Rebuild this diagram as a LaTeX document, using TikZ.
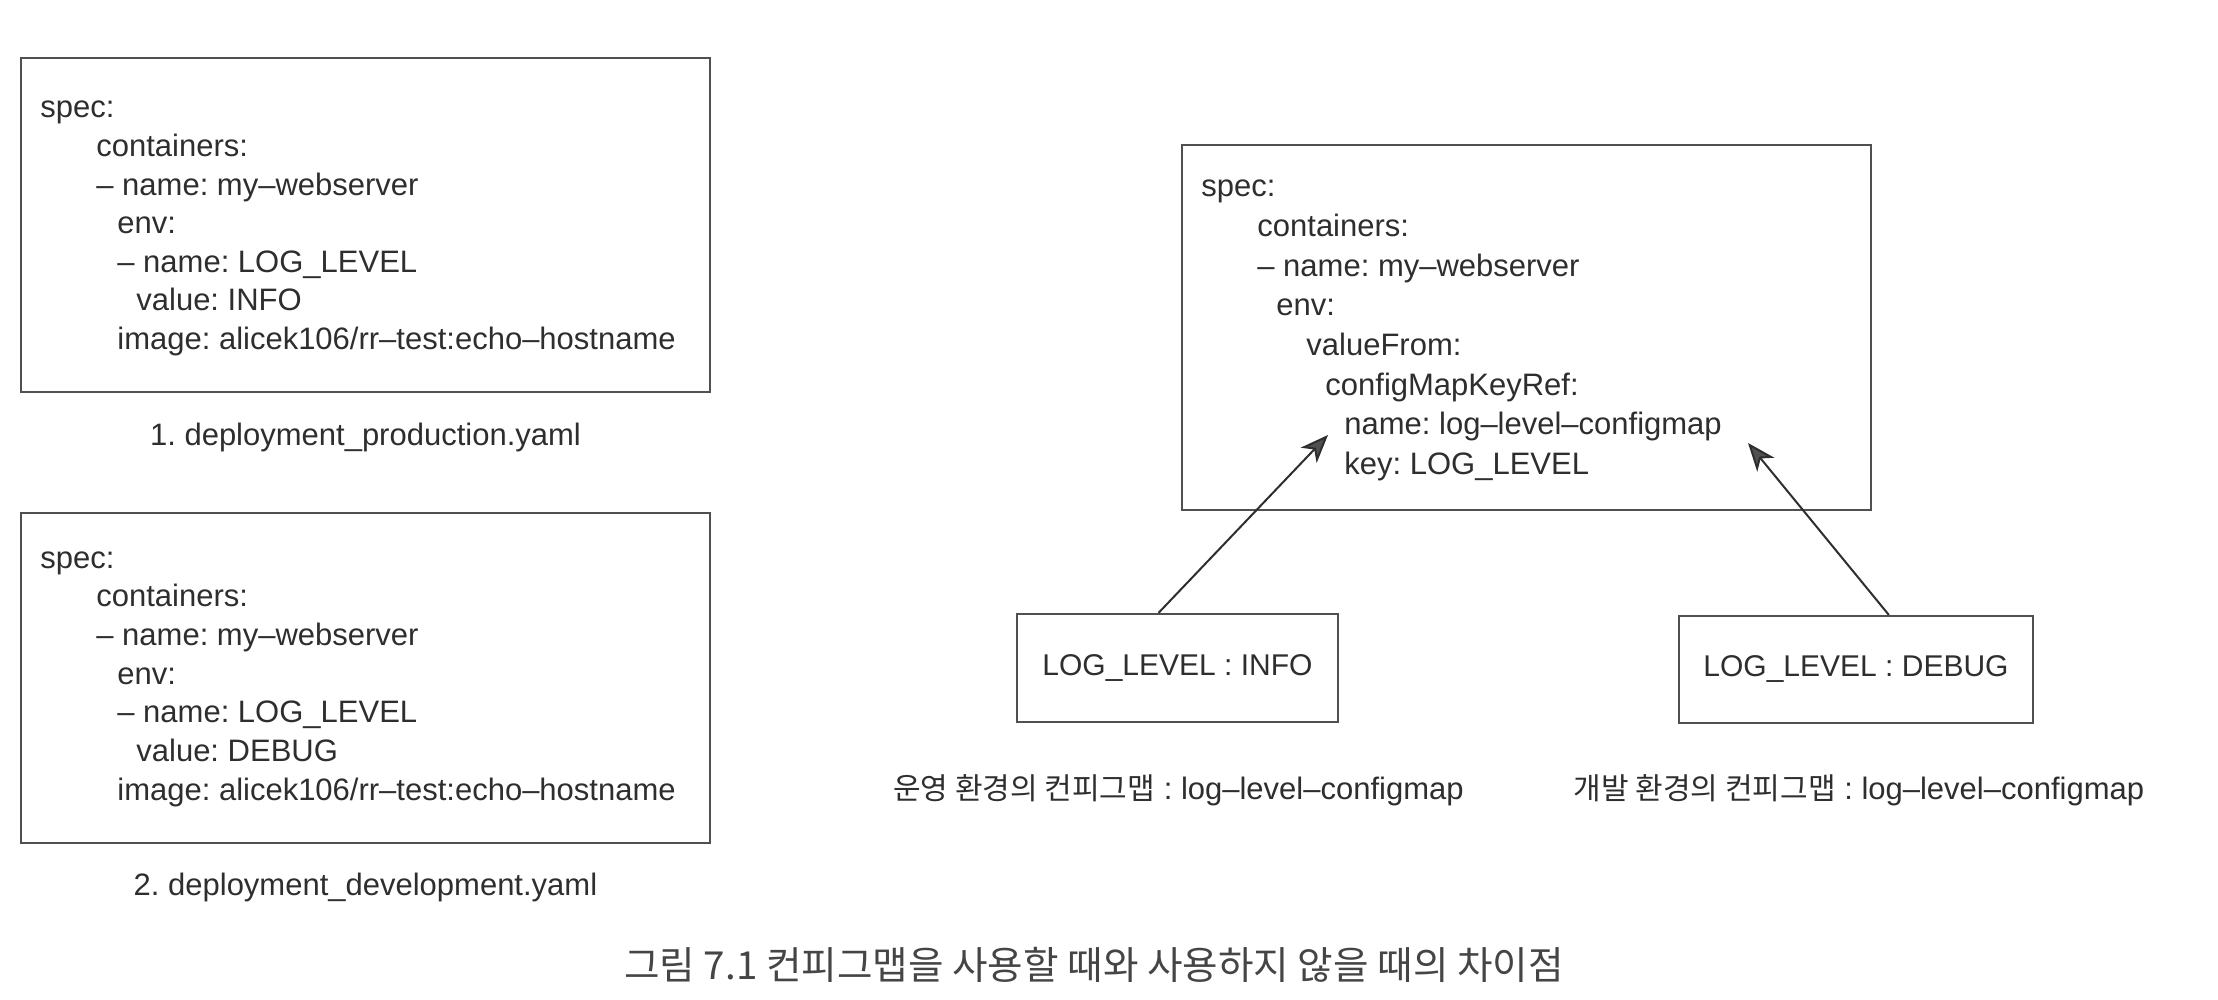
\documentclass[tikz,border=0pt]{standalone}
\usepackage{fontspec}
\setmainfont{Liberation Sans}
\newfontfamily\kr{Noto Sans CJK KR}
\usetikzlibrary{arrows.meta}
\definecolor{ink}{HTML}{2E2E2E}
\definecolor{frame}{HTML}{505050}
\definecolor{capink}{HTML}{454545}
\frenchspacing
\begin{document}
\begin{tikzpicture}[x=0.5pt,y=-0.5pt,
  codebox/.style={draw=frame, line width=1.1pt, inner sep=0pt, rectangle},
  code/.style={anchor=base west, inner sep=0pt, font=\fontsize{15.5}{18}\selectfont, text=ink},
  fname/.style={anchor=base, inner sep=0pt, font=\fontsize{15.5}{18}\selectfont, text=ink},
  valbox/.style={draw=frame, line width=1.1pt, inner sep=0pt, rectangle, font=\fontsize{15}{18}\selectfont, text=ink},
  krlabel/.style={anchor=center, inner sep=0pt, font=\fontsize{15.5}{18}\selectfont, text=ink},
  figcap/.style={anchor=center, inner sep=0pt, font=\kr\fontsize{19.3}{22}\selectfont, text=capink},
  link/.style={draw=ink, line width=1pt, -{Stealth[length=14pt,width=11pt,inset=4pt,fill=frame]}}
]
\useasboundingbox (0,0) rectangle (2218,1000);

% ---- box 1: production
\node[codebox, minimum width=344.5pt, minimum height=167pt] (prod) at (365.5,225) {};
\node[code] (p1) at (40,118) {spec:};
\node[code] (p2) at (96,156.6) {containers:};
\node[code] (p3) at (96,195.2) {– name: my–webserver};
\node[code] (p4) at (117,233.8) {env:};
\node[code] (p5) at (117,272.4) {– name: LOG\_LEVEL};
\node[code] (p6) at (136,311) {value: INFO};
\node[code] (p7) at (117,349.6) {image: alicek106/rr–test:echo–hostname};
\node[fname] (pcap) at (365.5,445) {1. deployment\_production.yaml};

% ---- box 2: development
\node[codebox, minimum width=344.5pt, minimum height=165pt] (dev) at (365.5,678) {};
\node[code] (d1) at (40,568) {spec:};
\node[code] (d2) at (96,606.7) {containers:};
\node[code] (d3) at (96,645.4) {– name: my–webserver};
\node[code] (d4) at (117,684) {env:};
\node[code] (d5) at (117,722.7) {– name: LOG\_LEVEL};
\node[code] (d6) at (136,761.4) {value: DEBUG};
\node[code] (d7) at (117,800) {image: alicek106/rr–test:echo–hostname};
\node[fname] (dcap) at (365.5,895) {2. deployment\_development.yaml};

% ---- right box: configmap reference
\node[codebox, minimum width=344.5pt, minimum height=182.5pt] (ref) at (1526.5,327.5) {};
\node[code] (r1) at (1201,197) {spec:};
\node[code] (r2) at (1257,236.6) {containers:};
\node[code] (r3) at (1257,276.2) {– name: my–webserver};
\node[code] (r4) at (1276,315.8) {env:};
\node[code] (r5) at (1306,355.4) {valueFrom:};
\node[code] (r6) at (1325,395) {configMapKeyRef:};
\node[code] (r7) at (1344,434.6) {name: log–level–configmap};
\node[code] (r8) at (1344,474.2) {key: LOG\_LEVEL};

% ---- configmap value boxes
\node[valbox, minimum width=160.5pt, minimum height=54pt] (info) at (1177.5,668) {LOG\_LEVEL : INFO};
\node[valbox, minimum width=177pt, minimum height=53.5pt] (debug) at (1856,669.5) {LOG\_LEVEL : DEBUG};

\node[krlabel] (infolbl) at (1178.5,790) {{\kr\fontsize{15}{18}\selectfont 운영 환경의 컨피그맵} : log–level–configmap};
\node[krlabel] (debuglbl) at (1859,790) {{\kr\fontsize{15}{18}\selectfont 개발 환경의 컨피그맵} : log–level–configmap};

% ---- arrows
\coordinate (tipA) at (1328,435);
\coordinate (tipB) at (1748,443);
\draw[link] (info.109) -- (tipA);
\draw[link] (debug.59) -- (tipB);

% ---- figure caption
\node[figcap] (caption) at (1094,965) {그림 7.1 컨피그맵을 사용할 때와 사용하지 않을 때의 차이점};
\end{tikzpicture}
\end{document}
